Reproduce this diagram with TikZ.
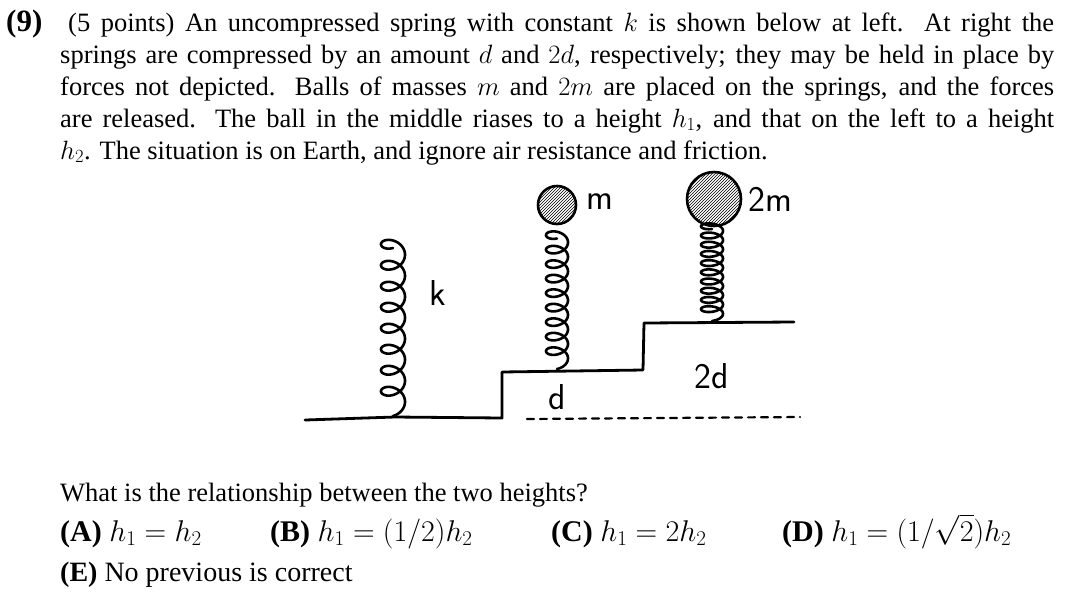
\RequirePackage{fix-cm}
\documentclass[tikz,border=0pt]{standalone}
\usepackage{amsmath}
\usepackage{fontspec}
\setmainfont{Liberation Serif}
\usetikzlibrary{patterns}
\begin{document}
\begin{tikzpicture}[x=1pt,y=-1pt,
  txt/.style={anchor=base west,inner sep=0pt,font=\fontsize{26.5}{30}\selectfont},
  opt/.style={anchor=base west,inner sep=0pt,font=\fontsize{30}{34}\selectfont},
  hand/.style={line width=2.8pt,line cap=round,line join=round},
  lab/.style={font=\sffamily\fontsize{36}{38}\selectfont,inner sep=0pt}]
\useasboundingbox (0,0) rectangle (1084,598);
% text
\node[txt,font=\bfseries\fontsize{31}{32}\selectfont] (n9) at (6,31) {(9)};
\node[txt] (l1) at (68,31) {\makebox[986pt][s]{(5 points) An uncompressed spring with constant $k$ is shown below at left. At right the}};
\node[txt] (l2) at (60,63) {\makebox[994pt][s]{springs are compressed by an amount $d$ and $2d$, respectively; they may be held in place by}};
\node[txt] (l3) at (60,95) {\makebox[994pt][s]{forces not depicted. Balls of masses $m$ and $2m$ are placed on the springs, and the forces}};
\node[txt] (l4) at (60,127) {\makebox[994pt][s]{are released. The ball in the middle riases to a height $h_1$, and that on the left to a height}};
\node[txt] (l5) at (60,159) {$h_2$. The situation is on Earth, and ignore air resistance and friction.};
\node[txt] (q) at (60,501) {What is the relationship between the two heights?};
\node[opt] (oa) at (60,541) {\textbf{(A)} $h_1=h_2$};
\node[opt] (ob) at (270,541) {\textbf{(B)} $h_1=(1/2)h_2$};
\node[opt] (oc) at (551,541) {\textbf{(C)} $h_1=2h_2$};
\node[opt] (od) at (782,541) {\textbf{(D)} $h_1=(1/\sqrt{2})h_2$};
\node[opt,font=\fontsize{28}{30}\selectfont] (oe) at (60,581) {\textbf{(E)} No previous is correct};
% ground
\draw[hand] (305,420) -- (395,417) -- (502,418) -- (502,372) -- (643,370) -- (644,323) -- (794,322);
\draw[hand,line width=2.2pt,dash pattern=on 7pt off 6pt] (527,419) -- (800,417);
% springs
\draw[hand,line width=2.6pt] plot[domain=0:2880,samples=400,smooth] ({393+12*sin(\x)},{416-\x/360*21+9*(cos(\x)-1)});
\draw[hand,line width=2.6pt] plot[domain=0:3240,samples=400,smooth] ({557+11*sin(\x)},{369-\x/360*14.5+7*(cos(\x)-1)});
\draw[hand,line width=2.6pt] plot[domain=0:3600,samples=400,smooth] ({712+11*sin(\x)},{321-\x/360*9.2+5*(cos(\x)-1)});
% balls
\node[circle,draw,line width=2.6pt,minimum size=38pt,inner sep=0pt,pattern=north east lines,pattern color=black] (b1) at (557,205) {};
\node[circle,draw,line width=2.6pt,minimum size=54pt,inner sep=0pt,pattern=north east lines,pattern color=black] (b2) at (714,199) {};
% labels
\node[lab] (k) at (438,293) {k};
\node[lab] (m) at (600,202) {m};
\node[lab] (m2) at (770,199) {2m};
\node[lab] (d2) at (712,376) {2d};
\node[lab] (d) at (557,397) {d};
\end{tikzpicture}
\end{document}
